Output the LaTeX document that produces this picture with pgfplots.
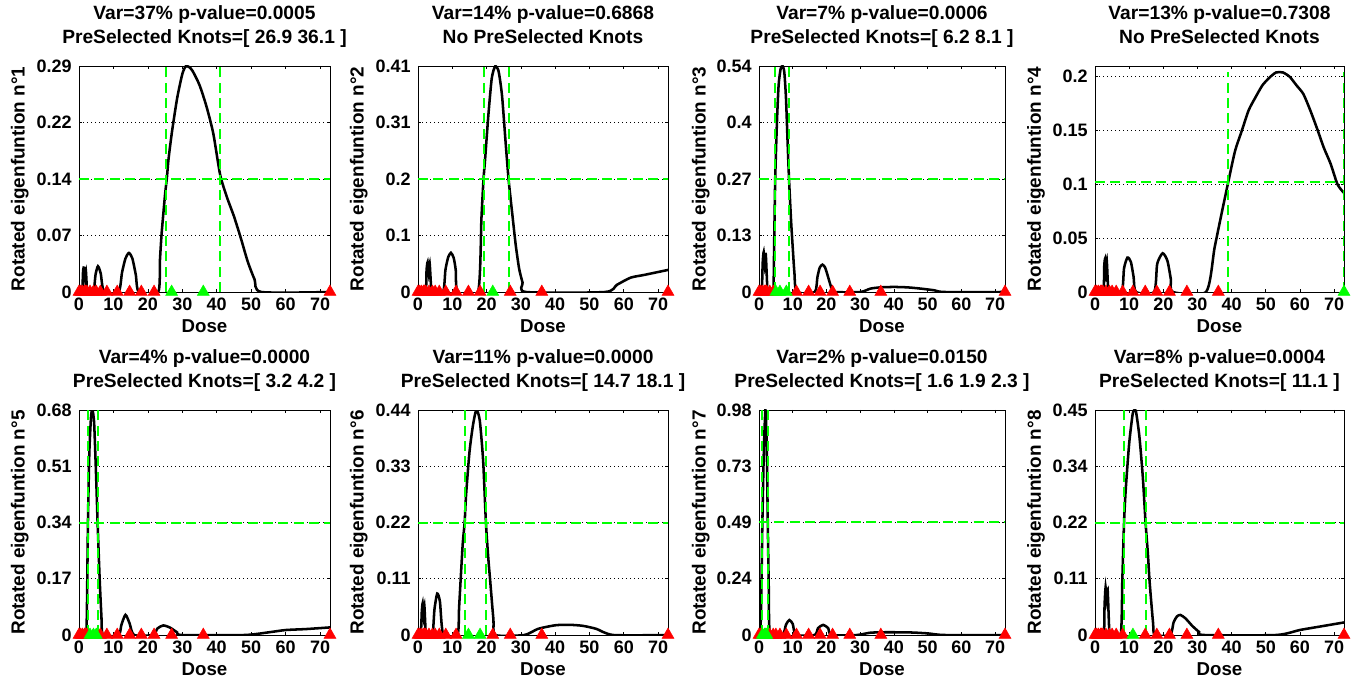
\documentclass[border=0pt]{standalone}
\usepackage{fontspec}
\setmainfont{Liberation Sans}
\usepackage{pgfplots}
\pgfplotsset{compat=1.18}
\definecolor{mgreen}{RGB}{0,255,0}
\pgfplotsset{
 panel/.style={
  scale only axis, anchor=south west,
  xmin=0, xmax=72.9, ymin=0,
  xtick={0,10,20,30,40,50,60,70},
  tick align=inside, tick pos=both,
  major tick length=2.3pt,
  ymajorgrids,
  major grid style={black, line width=0.5pt, dash pattern=on 0.6pt off 2.4pt},
  axis line style={black, line width=0.6pt},
  every tick/.style={black, line width=0.5pt},
  /pgf/number format/assume math mode=true,
  tick label style={font=\bfseries\fontsize{13.5}{13.5}\selectfont},
  xticklabel style={anchor=base, yshift=-13.9pt, inner sep=0pt},
  yticklabel style={anchor=east, inner sep=0pt, xshift=-5.3pt},
  title style={font=\bfseries\fontsize{14.4}{18}\selectfont, align=center, at={(0.5,1)}, anchor=south, inner sep=0pt, yshift=11pt, text depth=0pt},
  xlabel={Dose},
  xlabel style={font=\bfseries\fontsize{14}{14}\selectfont, at={(axis description cs:0.5,0)}, anchor=base, inner sep=0pt, yshift=-30.5pt},
  ylabel style={font=\bfseries\fontsize{14.2}{14.2}\selectfont, at={(axis description cs:-0.2,0.5)}, anchor=south, inner sep=0pt},
  clip mode=individual,
 },
 curve/.style={black, line width=1.9pt, smooth, tension=0.4, mark=none},
 gl/.style={mgreen, line width=1.5pt, dash pattern=on 7.5pt off 4pt, mark=none},
 rk/.style={only marks, mark=triangle*, mark size=5.2pt, red, mark options={draw=red, fill=red}},
 gk/.style={only marks, mark=triangle*, mark size=5.2pt, mgreen, mark options={draw=mgreen, fill=mgreen}},
}
\begin{document}
\begin{tikzpicture}
\path[use as bounding box] (0,0) rectangle (1014.75pt,512.25pt);

% ---------- Panel 1 ----------
\begin{axis}[panel, at={(59.25pt,293.25pt)}, width=188.25pt, height=169.5pt,
  ymax=0.2894, ytick={0,0.07235,0.1447,0.21705,0.2894}, yticklabels={0,0.07,0.14,0.22,0.29},
  title={Var=37\% p-value=0.0005\\PreSelected Knots=[ 26.9 36.1 ]},
  ylabel={Rotated eigenfuntion n°1}]
\addplot[curve] coordinates {(0,0) (0.9,0) (1.2,0.028) (1.5,0.031) (1.75,0.018) (2.0,0.027) (2.3,0.004) (2.5,0) (4.2,0) (4.8,0.022) (5.5,0.033) (6.3,0.024) (7.3,0) (11.5,0) (12.5,0.025) (13.5,0.043) (14.5,0.050) (15.5,0.043) (16.5,0.022) (17.4,0) (23,0) (23.5,0.04) (24,0.075) (25,0.125) (25.5,0.145) (26,0.17) (27,0.205) (28.5,0.248) (30,0.279) (31,0.289) (32,0.288) (33,0.283) (35,0.265) (37,0.238) (39,0.203) (41,0.150) (43,0.121) (45,0.097) (47,0.069) (49,0.039) (51,0.016) (53,0) (72.9,0)};
\addplot[gl] coordinates {(25.4,0) (25.4,0.2894)};
\addplot[gl] coordinates {(41.0,0) (41.0,0.2894)};
\addplot[gl] coordinates {(0,0.1447) (72.9,0.1447)};
\addplot[rk] coordinates {(0,0) (0.5,0) (1.0,0) (1.6,0) (1.9,0) (2.3,0) (3.2,0) (4.2,0) (5.0,0) (6.2,0) (8.1,0) (11.1,0) (14.7,0) (18.1,0) (21.8,0) (72.9,0)};
\addplot[gk] coordinates {(26.9,0) (36.1,0)};
\end{axis}

% ---------- Panel 2 ----------
\begin{axis}[panel, at={(313.5pt,293.25pt)}, width=187.5pt, height=169.5pt,
  ymax=0.4096, ytick={0,0.1024,0.2048,0.3072,0.4096}, yticklabels={0,0.1,0.2,0.31,0.41},
  title={Var=14\% p-value=0.6868\\No PreSelected Knots},
  ylabel={Rotated eigenfuntion n°2}]
\addplot[curve] coordinates {(0,0) (2.2,0) (2.5,0.04) (2.8,0.054) (3.1,0.035) (3.4,0.052) (3.8,0.01) (4.0,0) (7.3,0) (8,0.04) (8.8,0.063) (9.6,0.071) (10.4,0.062) (11.0,0.04) (11.6,0) (17.5,0) (18.5,0.134) (19.1,0.2048) (19.5,0.235) (20.5,0.319) (21.5,0.387) (22.5,0.409) (23.5,0.40) (24.5,0.356) (25.5,0.275) (26.4,0.2048) (27.5,0.141) (28.5,0.085) (29.5,0.042) (30.5,0.017) (31.5,0) (54.5,0) (58,0.013) (62,0.026) (66,0.031) (72.9,0.040)};
\addplot[gl] coordinates {(19.1,0) (19.1,0.4096)};
\addplot[gl] coordinates {(26.4,0) (26.4,0.4096)};
\addplot[gl] coordinates {(0,0.2048) (72.9,0.2048)};
\addplot[rk] coordinates {(0,0) (0.5,0) (1.0,0) (1.6,0) (1.9,0) (2.3,0) (3.2,0) (4.2,0) (5.0,0) (6.2,0) (8.1,0) (11.1,0) (14.7,0) (18.1,0) (26.9,0) (36.1,0) (72.9,0)};
\addplot[gk] coordinates {(21.8,0)};
\end{axis}

% ---------- Panel 3 ----------
\begin{axis}[panel, at={(569.25pt,293.25pt)}, width=184.5pt, height=169.5pt,
  ymax=0.537, ytick={0,0.13425,0.2685,0.40275,0.537}, yticklabels={0,0.13,0.27,0.4,0.54},
  title={Var=7\% p-value=0.0006\\PreSelected Knots=[ 6.2 8.1 ]},
  ylabel={Rotated eigenfuntion n°3}]
\addplot[curve] coordinates {(0,0) (0.8,0) (1.1,0.07) (1.4,0.095) (1.7,0.06) (2.0,0.09) (2.4,0.02) (2.6,0) (4.2,0) (4.5,0.12) (4.8,0.268) (5.3,0.40) (5.8,0.49) (6.4,0.53) (7,0.537) (7.5,0.522) (8,0.46) (8.5,0.35) (8.9,0.268) (9.5,0.17) (10,0.105) (10.5,0.045) (11.2,0) (16.5,0) (17.3,0.035) (18,0.058) (18.8,0.065) (19.6,0.058) (20.5,0.035) (21.5,0.008) (22,0) (30,0) (33,0.008) (36,0.011) (40,0.012) (44,0.011) (48,0.008) (52,0.004) (55,0) (72.9,0)};
\addplot[gl] coordinates {(4.8,0) (4.8,0.537)};
\addplot[gl] coordinates {(8.9,0) (8.9,0.537)};
\addplot[gl] coordinates {(0,0.2685) (72.9,0.2685)};
\addplot[rk] coordinates {(0,0) (0.5,0) (1.0,0) (1.6,0) (1.9,0) (2.3,0) (3.2,0) (4.2,0) (11.1,0) (14.7,0) (18.1,0) (21.8,0) (26.9,0) (36.1,0) (72.9,0)};
\addplot[gk] coordinates {(5.0,0) (6.2,0) (8.1,0)};
\end{axis}

% ---------- Panel 4 ----------
\begin{axis}[panel, at={(821.25pt,293.25pt)}, width=186.75pt, height=169.5pt,
  ymax=0.21, ytick={0,0.05,0.1,0.15,0.2}, yticklabels={0,0.05,0.1,0.15,0.2},
  title={Var=13\% p-value=0.7308\\No PreSelected Knots},
  ylabel={Rotated eigenfuntion n°4}]
\addplot[curve] coordinates {(0,0) (2.4,0) (2.7,0.024) (2.95,0.031) (3.2,0.02) (3.45,0.029) (3.8,0.005) (4.0,0) (7.8,0) (8.5,0.022) (9.5,0.032) (10.5,0.028) (11.3,0.014) (12,0) (17.3,0) (18.2,0.026) (19.8,0.036) (21.2,0.029) (22.2,0.012) (22.8,0) (32.5,0) (35,0.041) (37,0.072) (39,0.102) (41,0.131) (43,0.15) (45,0.169) (47,0.181) (49,0.192) (51,0.199) (53,0.204) (55,0.204) (57,0.20) (59,0.192) (61,0.184) (63,0.169) (65,0.152) (67,0.134) (69,0.119) (71,0.10) (72.9,0.092)};
\addplot[gl] coordinates {(39.0,0) (39.0,0.204)};
\addplot[gl] coordinates {(72.9,0) (72.9,0.204)};
\addplot[gl] coordinates {(0,0.102) (72.9,0.102)};
\addplot[rk] coordinates {(0,0) (0.5,0) (1.0,0) (1.6,0) (1.9,0) (2.3,0) (3.2,0) (4.2,0) (5.0,0) (6.2,0) (8.1,0) (11.1,0) (14.7,0) (18.1,0) (21.8,0) (26.9,0) (36.1,0)};
\addplot[gk] coordinates {(72.9,0)};
\end{axis}

% ---------- Panel 5 ----------
\begin{axis}[panel, at={(59.25pt,36pt)}, width=188.25pt, height=168.75pt,
  ymax=0.68, ytick={0,0.17,0.34,0.51,0.68}, yticklabels={0,0.17,0.34,0.51,0.68},
  title={Var=4\% p-value=0.0000\\PreSelected Knots=[ 3.2 4.2 ]},
  ylabel={Rotated eigenfuntion n°5}]
\addplot[curve] coordinates {(0,0) (2.0,0) (2.3,0.08) (2.6,0.34) (3.0,0.55) (3.5,0.66) (3.9,0.68) (4.4,0.64) (5.0,0.47) (5.4,0.34) (6,0.17) (6.5,0.06) (7,0) (11.5,0) (12.3,0.03) (13.5,0.061) (14.7,0.035) (16,0) (21.5,0) (22.8,0.02) (24.5,0.029) (26.5,0.022) (28.5,0.008) (30,0) (48,0) (55,0.008) (60,0.015) (66,0.018) (72.9,0.023)};
\addplot[gl] coordinates {(2.6,0) (2.6,0.68)};
\addplot[gl] coordinates {(5.4,0) (5.4,0.68)};
\addplot[gl] coordinates {(0,0.34) (72.9,0.34)};
\addplot[rk] coordinates {(0,0) (0.5,0) (1.0,0) (1.6,0) (1.9,0) (2.3,0) (6.2,0) (8.1,0) (11.1,0) (14.7,0) (18.1,0) (21.8,0) (26.9,0) (36.1,0) (72.9,0)};
\addplot[gk] coordinates {(3.2,0) (4.2,0) (5.0,0)};
\end{axis}

% ---------- Panel 6 ----------
\begin{axis}[panel, at={(313.5pt,36pt)}, width=187.5pt, height=168.75pt,
  ymax=0.44, ytick={0,0.11,0.22,0.33,0.44}, yticklabels={0,0.11,0.22,0.33,0.44},
  title={Var=11\% p-value=0.0000\\PreSelected Knots=[ 14.7 18.1 ]},
  ylabel={Rotated eigenfuntion n°6}]
\addplot[curve] coordinates {(0,0) (0.8,0) (1.1,0.045) (1.35,0.062) (1.6,0.04) (1.85,0.058) (2.2,0.01) (2.4,0) (4.2,0) (4.8,0.05) (5.6,0.081) (6.4,0.065) (7.4,0) (11.5,0) (12,0.056) (13,0.174) (13.6,0.22) (14,0.272) (15,0.357) (16,0.409) (17,0.44) (18,0.42) (19,0.34) (19.8,0.22) (20.5,0.15) (21,0.11) (22,0.03) (22.6,0) (31,0) (35,0.012) (40,0.019) (44,0.020) (48,0.018) (52,0.012) (57,0) (72.9,0)};
\addplot[gl] coordinates {(13.6,0) (13.6,0.44)};
\addplot[gl] coordinates {(19.8,0) (19.8,0.44)};
\addplot[gl] coordinates {(0,0.22) (72.9,0.22)};
\addplot[rk] coordinates {(0,0) (0.5,0) (1.0,0) (1.6,0) (1.9,0) (2.3,0) (3.2,0) (4.2,0) (5.0,0) (6.2,0) (8.1,0) (11.1,0) (21.8,0) (26.9,0) (36.1,0) (72.9,0)};
\addplot[gk] coordinates {(14.7,0) (18.1,0)};
\end{axis}

% ---------- Panel 7 ----------
\begin{axis}[panel, at={(569.25pt,36pt)}, width=184.5pt, height=168.75pt,
  ymax=0.977, ytick={0,0.24425,0.4885,0.73275,0.977}, yticklabels={0,0.24,0.49,0.73,0.98},
  title={Var=2\% p-value=0.0150\\PreSelected Knots=[ 1.6 1.9 2.3 ]},
  ylabel={Rotated eigenfuntion n°7}]
\addplot[curve] coordinates {(0,0) (0.4,0) (0.7,0.2) (1.0,0.4885) (1.4,0.78) (1.9,0.977) (2.3,0.82) (2.6,0.4885) (2.9,0.2) (3.3,0) (7,0) (8,0.045) (9,0.065) (10,0.048) (11,0) (16.5,0) (17.5,0.03) (19,0.044) (20.5,0.03) (21.5,0) (29,0) (33,0.01) (38,0.012) (45,0.011) (50,0.007) (55,0) (72.9,0)};
\addplot[gl] coordinates {(1.0,0) (1.0,0.977)};
\addplot[gl] coordinates {(2.6,0) (2.6,0.977)};
\addplot[gl] coordinates {(0,0.4885) (72.9,0.4885)};
\addplot[rk] coordinates {(0,0) (0.5,0) (3.2,0) (4.2,0) (5.0,0) (6.2,0) (8.1,0) (11.1,0) (14.7,0) (18.1,0) (21.8,0) (26.9,0) (36.1,0) (72.9,0)};
\addplot[gk] coordinates {(1.0,0) (1.6,0) (1.9,0) (2.3,0)};
\end{axis}

% ---------- Panel 8 ----------
\begin{axis}[panel, at={(821.25pt,36pt)}, width=186.75pt, height=168.75pt,
  ymax=0.448, ytick={0,0.112,0.224,0.336,0.448}, yticklabels={0,0.11,0.22,0.34,0.45},
  title={Var=8\% p-value=0.0004\\PreSelected Knots=[ 11.1 ]},
  ylabel={Rotated eigenfuntion n°8}]
\addplot[curve] coordinates {(0,0) (2.5,0) (2.8,0.06) (3.1,0.095) (3.4,0.07) (3.7,0.09) (4.1,0.02) (4.3,0) (7.5,0) (8,0.11) (8.5,0.224) (9,0.29) (10,0.381) (11,0.439) (11.5,0.448) (12,0.445) (13,0.395) (14,0.314) (14.8,0.224) (15.5,0.16) (16,0.105) (17,0.024) (17.5,0) (22,0) (23,0.025) (24,0.037) (25,0.040) (26.5,0.033) (28.5,0.018) (30.5,0.006) (32,0) (53,0) (60,0.010) (66,0.017) (72.9,0.025)};
\addplot[gl] coordinates {(8.5,0) (8.5,0.448)};
\addplot[gl] coordinates {(14.8,0) (14.8,0.448)};
\addplot[gl] coordinates {(0,0.224) (72.9,0.224)};
\addplot[rk] coordinates {(0,0) (0.5,0) (1.0,0) (1.6,0) (1.9,0) (2.3,0) (3.2,0) (4.2,0) (5.0,0) (6.2,0) (8.1,0) (14.7,0) (18.1,0) (21.8,0) (26.9,0) (36.1,0) (72.9,0)};
\addplot[gk] coordinates {(11.1,0)};
\end{axis}
\end{tikzpicture}
\end{document}
